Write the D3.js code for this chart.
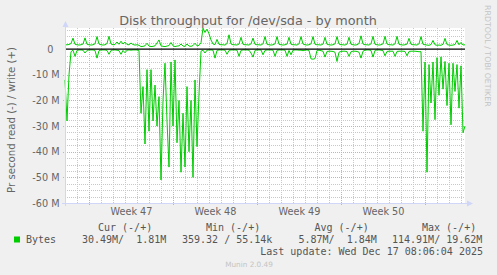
<!DOCTYPE html>
<html>
<head>
<meta charset="utf-8">
<script src="https://cdn.jsdelivr.net/npm/d3@7"></script>
<style>
  html, body { margin: 0; padding: 0; background: #f0f0f0; }
  svg { display: block; }
</style>
</head>
<body>
<svg id="chart" width="497" height="275"></svg>
<script>
// ---- Data ----
// samples every 4 hours, the last one at the "last update" time
const lastUpdate = new Date(2025, 11, 17, 8, 6, 4);
const stepHours = 4;

// write (+) in MB/s
const writeM = [
  1.7, 1.7, 1.8, 2.2, 4.3, 1.9, 1.7, 1.6, 1.7, 2.0,
  4.4, 1.9, 1.7, 1.6, 1.7, 2.1, 4.9, 2.0, 1.7, 1.6,
  1.7, 2.2, 5.0, 2.0, 1.7, 1.8, 2.8, 1.9, 3.1, 2.0,
  2.7, 1.8, 1.7, 2.4, 1.8, 1.6, 1.7, 1.5, 1.0, 1.1,
  1.3, 2.3, 1.2, 1.0, 1.1, 1.3, 2.4, 3.6, 1.3, 1.1,
  1.0, 1.2, 1.4, 2.6, 1.3, 1.0, 1.2, 1.3, 2.0, 1.2,
  1.1, 2.0, 1.2, 1.1, 1.4, 2.3, 1.3, 1.5, 2.5, 8.2,
  6.5, 7.8, 6.0, 3.6, 2.0, 1.8, 3.8, 1.9, 1.7, 1.7,
  1.6, 2.2, 5.6, 2.0, 1.7, 1.7, 1.6, 2.0, 4.6, 1.9,
  1.7, 1.7, 1.6, 2.1, 4.3, 1.9, 1.7, 1.7, 1.6, 2.1,
  4.9, 1.9, 1.7, 1.6, 1.7, 2.1, 4.9, 1.9, 1.7, 1.6,
  1.7, 2.0, 4.6, 1.9, 1.7, 1.7, 1.6, 2.1, 4.9, 2.0,
  1.7, 1.6, 1.7, 2.1, 4.9, 1.9, 1.7, 1.7, 1.6, 2.0,
  4.6, 1.9, 1.7, 1.6, 1.7, 2.1, 4.9, 2.0, 1.7, 1.7,
  1.6, 2.0, 4.6, 1.9, 1.7, 1.6, 1.7, 2.2, 5.2, 2.0,
  1.7, 1.7, 1.6, 2.1, 5.0, 1.9, 1.7, 1.6, 1.7, 2.1,
  5.0, 2.0, 1.7, 1.7, 1.6, 2.1, 5.0, 1.9, 1.7, 1.6,
  1.7, 2.0, 4.2, 1.9, 1.7, 1.7, 1.6, 2.1, 4.9, 1.9,
  1.7, 1.6, 1.5, 1.8, 3.4, 1.7, 1.5, 1.6, 1.5, 1.9,
  4.2, 1.8, 1.6, 1.5, 1.6, 1.8, 3.4, 1.7, 2.6, 1.6,
  1.7
];

// read (-) in MB/s, drawn below zero
const readM = [
  12, 28, 10, 1.0, 0.4, 2.8, 0.5, 0.3, 0.3, 0.4,
  1.5, 0.5, 0.3, 0.3, 0.3, 0.5, 3.5, 0.6, 0.3, 0.3,
  0.3, 0.5, 2.0, 0.5, 0.3, 0.3, 0.4, 0.6, 2.0, 0.5,
  1.4, 0.4, 0.3, 0.4, 0.3, 0.3, 0.3, 0.5, 25, 14.6,
  37, 8, 32, 8, 28, 14, 30, 18.5, 51, 20,
  5.5, 28, 46, 5, 30, 4.2, 36.5, 20, 48, 25,
  46, 14.6, 40, 20, 50, 12, 38, 17.5, 0.8, 0.4,
  1.5, 0.4, 0.3, 0.3, 0.4, 3.5, 0.5, 0.3, 0.3, 0.3,
  0.4, 2.0, 0.5, 0.3, 0.3, 0.3, 0.4, 2.8, 0.5, 0.3,
  0.3, 0.3, 0.4, 1.5, 3.1, 0.5, 0.3, 0.3, 0.3, 2.2,
  0.5, 0.3, 0.3, 0.3, 0.4, 2.8, 0.5, 0.3, 0.3, 0.3,
  0.4, 2.8, 0.5, 2.2, 0.4, 0.3, 0.3, 0.4, 0.4, 0.6,
  0.4, 0.3, 0.5, 3.8, 3.9, 3.7, 0.5, 0.4, 0.6, 0.8,
  3.1, 0.9, 0.8, 0.8, 0.9, 1.2, 4.8, 1.2, 0.9, 0.8,
  0.8, 1.0, 2.8, 1.0, 0.8, 0.8, 0.9, 1.2, 3.5, 0.8,
  0.4, 0.3, 0.3, 0.5, 3.1, 0.5, 0.3, 0.3, 0.4, 0.6,
  2.6, 0.9, 0.8, 0.8, 0.8, 2.8, 0.9, 0.8, 0.8, 0.8,
  0.9, 2.6, 0.9, 0.8, 0.8, 0.8, 0.9, 1.0, 1.0, 32,
  5, 48, 6, 21, 5, 27.5, 3.3, 18, 3, 15.6,
  4.8, 22, 5.5, 29.5, 5.5, 16.5, 6, 23, 6.5, 32.6,
  30
];

const yTickValues = [0, -10e6, -20e6, -30e6, -40e6, -50e6, -60e6];
const legendHeaders = ["Cur (-/+)", "Min (-/+)", "Avg (-/+)", "Max (-/+)"];
const legendValues = ["30.49M/  1.81M", "359.32 / 55.14k", "5.87M/  1.84M", "114.91M/ 19.62M"];
const seriesName = "Bytes";

// ---- Layout ----
const width = 497, height = 275;
const plot = { left: 65, right: 465, top: 28, bottom: 203 };
const green = "#00cc00";
const axisColor = "#cfd6f8";
const fontColor = "#666666";

const startTime = new Date(lastUpdate.getTime() - (writeM.length - 1) * stepHours * 3600e3);
const times = writeM.map((_, i) => new Date(startTime.getTime() + i * stepHours * 3600e3));

const xScale = d3.scaleTime()
  .domain([startTime, lastUpdate])
  .range([plot.left, plot.right]);

const yScale = d3.scaleLinear()
  .domain([-60e6, 8.25e6])
  .range([plot.bottom, plot.top]);

const svg = d3.select("#chart");

svg.append("rect")
  .attr("width", width).attr("height", height)
  .attr("fill", "#f0f0f0");

// canvas
svg.append("rect")
  .attr("x", plot.left).attr("y", plot.top)
  .attr("width", plot.right - plot.left).attr("height", plot.bottom - plot.top)
  .attr("fill", "#ffffff");

// ---- Grid ----
const grid = svg.append("g").attr("shape-rendering", "crispEdges");

// vertical: every day (minor), every week (major)
const days = d3.timeDay.range(d3.timeDay.ceil(startTime), lastUpdate);
const weeks = d3.timeSunday.range(d3.timeSunday.ceil(startTime), lastUpdate);

grid.selectAll(".vminor")
  .data(days.filter(d => d.getDay() !== 0))
  .join("line")
    .attr("x1", d => Math.round(xScale(d)) + 0.5)
    .attr("x2", d => Math.round(xScale(d)) + 0.5)
    .attr("y1", plot.top).attr("y2", plot.bottom)
    .attr("stroke", "#c8c8c8").attr("stroke-dasharray", "1,1");

grid.selectAll(".vmajor")
  .data(weeks)
  .join("line")
    .attr("x1", d => Math.round(xScale(d)) + 0.5)
    .attr("x2", d => Math.round(xScale(d)) + 0.5)
    .attr("y1", plot.top).attr("y2", plot.bottom + 2)
    .attr("stroke", "#f0a0a0").attr("stroke-dasharray", "1,1");

// horizontal: every 2.5M (minor), every 10M (major)
const hMinor = d3.range(-57.5e6, 8.3e6, 2.5e6).filter(v => Math.abs(v % 10e6) > 1);
grid.selectAll(".hminor")
  .data(hMinor)
  .join("line")
    .attr("x1", plot.left).attr("x2", plot.right)
    .attr("y1", d => Math.round(yScale(d)) + 0.5)
    .attr("y2", d => Math.round(yScale(d)) + 0.5)
    .attr("stroke", "#c8c8c8").attr("stroke-dasharray", "1,1");

grid.selectAll(".hmajor")
  .data(yTickValues.filter(v => v !== 0 && v !== -60e6))
  .join("line")
    .attr("x1", plot.left - 2).attr("x2", plot.right)
    .attr("y1", d => Math.round(yScale(d)) + 0.5)
    .attr("y2", d => Math.round(yScale(d)) + 0.5)
    .attr("stroke", "#f0a0a0").attr("stroke-dasharray", "1,1");

// ---- Series ----
const line = d3.line()
  .x(d => xScale(d.t))
  .y(d => yScale(d.v));

const writeData = times.map((t, i) => ({ t, v: writeM[i] * 1e6 }));
const readData = times.map((t, i) => ({ t, v: -readM[i] * 1e6 }));

svg.append("path")
  .datum(readData)
  .attr("d", line)
  .attr("fill", "none")
  .attr("stroke", green)
  .attr("stroke-width", 1);

svg.append("path")
  .datum(writeData)
  .attr("d", line)
  .attr("fill", "none")
  .attr("stroke", green)
  .attr("stroke-width", 1);

// zero line
svg.append("line")
  .attr("x1", plot.left).attr("x2", plot.right)
  .attr("y1", yScale(0)).attr("y2", yScale(0))
  .attr("stroke", "#000").attr("stroke-width", 1.3);

// ---- Axes ----
const leftAxis = d3.axisLeft(yScale)
  .tickValues(yTickValues)
  .tickSize(0)
  .tickPadding(5.5)
  .tickFormat(d => d === 0 ? "0" : `${d / 1e6} M`);

const yAxisG = svg.append("g")
  .attr("transform", `translate(${plot.left}, 0)`)
  .call(leftAxis);
yAxisG.select(".domain").remove();
yAxisG.selectAll("text")
  .attr("font-family", "DejaVu Sans")
  .attr("font-size", 9.7)
  .attr("fill", fontColor)
  .attr("dx", d => d === 0 ? -6 : 0);

// week labels sit half a week after the week start
const labelTimes = weeks
  .map(d => d3.timeHour.offset(d, 84))
  .filter(d => d < lastUpdate);

const bottomAxis = d3.axisBottom(xScale)
  .tickValues(labelTimes)
  .tickSize(0)
  .tickPadding(5.5)
  .tickFormat(d3.timeFormat("Week %V"));

const xAxisG = svg.append("g")
  .attr("transform", `translate(0, ${plot.bottom})`)
  .call(bottomAxis);
xAxisG.select(".domain").remove();
xAxisG.selectAll("text")
  .attr("font-family", "DejaVu Sans")
  .attr("font-size", 9.7)
  .attr("fill", fontColor);

// axis lines + arrows
svg.append("line")
  .attr("x1", plot.left - 3).attr("x2", plot.right + 3)
  .attr("y1", plot.bottom + 0.5).attr("y2", plot.bottom + 0.5)
  .attr("stroke", axisColor);
svg.append("line")
  .attr("x1", plot.left + 0.5).attr("x2", plot.left + 0.5)
  .attr("y1", plot.bottom + 3).attr("y2", plot.top - 3)
  .attr("stroke", axisColor);
svg.append("path")
  .attr("d", `M${plot.right + 2},${plot.bottom - 2.5} L${plot.right + 8},${plot.bottom + 0.5} L${plot.right + 2},${plot.bottom + 3.5} Z`)
  .attr("fill", axisColor);
svg.append("path")
  .attr("d", `M${plot.left - 2.5},${plot.top - 1} L${plot.left + 0.5},${plot.top - 7} L${plot.left + 3.5},${plot.top - 1} Z`)
  .attr("fill", axisColor);

// ---- Texts ----
svg.append("text")
  .text("Disk throughput for /dev/sda - by month")
  .attr("x", 248).attr("y", 24.5)
  .attr("text-anchor", "middle")
  .attr("font-family", "DejaVu Sans")
  .attr("font-size", 12.8)
  .attr("fill", fontColor);

svg.append("text")
  .text("Pr second read (-) / write (+)")
  .attr("transform", "translate(14.5, 120) rotate(-90)")
  .attr("text-anchor", "middle")
  .attr("font-family", "DejaVu Sans")
  .attr("font-size", 10.2)
  .attr("fill", fontColor);

svg.append("text")
  .text("RRDTOOL / TOBI OETIKER")
  .attr("transform", "translate(484.5, 5) rotate(90)")
  .attr("font-family", "DejaVu Sans")
  .attr("font-size", 7.9)
  .attr("fill", "#c4c4c4");

// ---- Legend ----
const mono = "DejaVu Sans Mono";
const legendColor = "#555555";
const headerX = [98, 206, 314.5, 422];
const valueX = [82, 182, 298.5, 392];

svg.selectAll(".lhead")
  .data(legendHeaders)
  .join("text")
    .attr("x", (d, i) => headerX[i])
    .attr("y", 231)
    .attr("font-family", mono).attr("font-size", 10)
    .attr("fill", legendColor)
    .attr("xml:space", "preserve")
    .text(d => d);

svg.append("rect")
  .attr("x", 14).attr("y", 236.5)
  .attr("width", 6).attr("height", 6)
  .attr("fill", green);

svg.append("text")
  .text(seriesName)
  .attr("x", 26).attr("y", 243)
  .attr("font-family", mono).attr("font-size", 10)
  .attr("fill", legendColor);

svg.selectAll(".lval")
  .data(legendValues)
  .join("text")
    .attr("x", (d, i) => valueX[i])
    .attr("y", 243)
    .attr("font-family", mono).attr("font-size", 10)
    .attr("fill", legendColor)
    .style("white-space", "pre")
    .text(d => d);

svg.append("text")
  .text("Last update: Wed Dec 17 08:06:04 2025")
  .attr("x", 483).attr("y", 254.5)
  .attr("text-anchor", "end")
  .attr("font-family", mono).attr("font-size", 10)
  .attr("fill", legendColor);

svg.append("text")
  .text("Munin 2.0.49")
  .attr("x", 249).attr("y", 267)
  .attr("text-anchor", "middle")
  .attr("font-family", "DejaVu Sans")
  .attr("font-size", 7.3)
  .attr("fill", "#c4c4c4");
</script>
</body>
</html>
